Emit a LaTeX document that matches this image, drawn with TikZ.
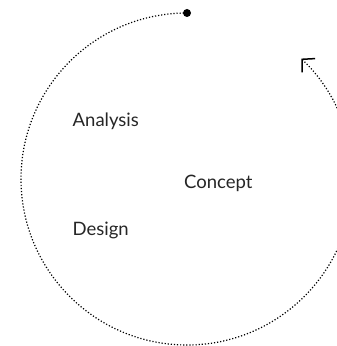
\documentclass[tikz,border=0pt]{standalone}
\usepackage{fontspec}
\setmainfont{Lato}
\usetikzlibrary{arrows.meta}
\tikzset{
  lbl/.style={anchor=base west, inner sep=0pt, font=\fontsize{18.5}{21}\selectfont, text=black!85},
  cyc/.style={line width=1.2pt, dash pattern=on 1.2pt off 1.9pt, black},
  dotnode/.style={circle, fill=black, inner sep=0pt, minimum size=8pt}
}
\begin{document}
\begin{tikzpicture}[x=1pt,y=1pt]
\useasboundingbox (0,0) rectangle (337,346);
\node[dotnode] (s) at (187,333) {};
\draw[cyc, -{Straight Barb[length=9pt,width=19pt,line width=1.5pt]}] (s.center) arc[start angle=90, end angle=406.5, radius=166] coordinate (e);
\node[lbl] (analysis) at (72.5,219.5) {Analysis};
\node[lbl] (concept) at (184,157) {Concept};
\node[lbl] (design) at (72.5,110) {Design};
\end{tikzpicture}
\end{document}
